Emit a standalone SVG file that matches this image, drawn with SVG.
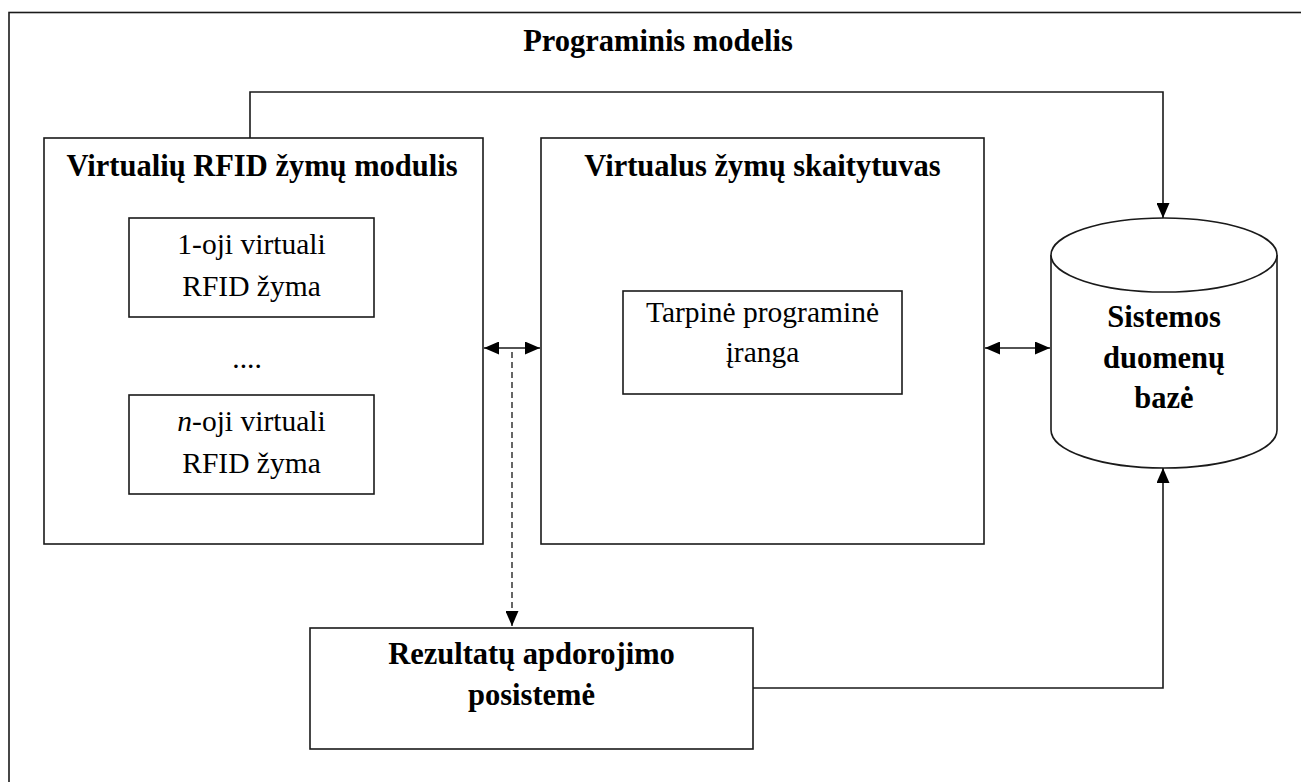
<svg xmlns="http://www.w3.org/2000/svg" width="1301" height="782" viewBox="0 0 1301 782">
<style>
.box{fill:#fff;stroke:#1a1a1a;stroke-width:1.6}
.ln{fill:none;stroke:#1a1a1a;stroke-width:1.6}
.dash{fill:none;stroke:#666;stroke-width:2;stroke-dasharray:6 4}
.t{font-family:"Liberation Serif","Times New Roman",serif;font-size:29.5px;fill:#000;text-anchor:middle}
.b{font-family:"Liberation Serif","Times New Roman",serif;font-size:30.5px;font-weight:bold;fill:#000;text-anchor:middle}
</style>
<defs>
<marker id="ah" viewBox="0 0 15 13" refX="15" refY="6.5" markerWidth="15" markerHeight="13" markerUnits="userSpaceOnUse" orient="auto-start-reverse">
<path d="M0,0 L15,6.5 L0,13 z" fill="#000"/>
</marker>
</defs>
<rect width="1301" height="782" fill="#fff"/>
<g id="frame">
<rect x="9" y="12.5" width="1400" height="900" fill="none" stroke="#1a1a1a" stroke-width="1.6"/>
<text class="b" x="658" y="51">Programinis modelis</text>
</g>
<g id="tag-module">
<rect class="box" x="44" y="138" width="439" height="406"/>
<text class="b" x="262" y="176">Virtualių RFID žymų modulis</text>
</g>
<g id="tag-1">
<rect class="box" x="129" y="218" width="245" height="99"/>
<text class="t" x="251.5" y="254">1-oji virtuali</text>
<text class="t" x="251.5" y="296">RFID žyma</text>
</g>
<g id="dots">
<text class="t" x="247" y="368">....</text>
</g>
<g id="tag-n">
<rect class="box" x="129" y="395" width="245" height="99"/>
<text class="t" x="251.5" y="431"><tspan font-style="italic">n</tspan>-oji virtuali</text>
<text class="t" x="251.5" y="473">RFID žyma</text>
</g>
<g id="reader">
<rect class="box" x="541" y="138" width="443" height="406"/>
<text class="b" x="762.5" y="176">Virtualus žymų skaitytuvas</text>
</g>
<g id="middleware">
<rect class="box" x="623" y="291" width="279" height="103"/>
<text class="t" x="762.5" y="322">Tarpinė programinė</text>
<text class="t" x="762.5" y="362">įranga</text>
</g>
<g id="database">
<path class="box" d="M1051,255 V430 A113,38 0 0 0 1277,430 V255"/>
<ellipse class="box" cx="1164" cy="255" rx="113" ry="37"/>
<text class="b" x="1164" y="327">Sistemos</text>
<text class="b" x="1164" y="368">duomenų</text>
<text class="b" x="1164" y="408">bazė</text>
</g>
<g id="results">
<rect class="box" x="310" y="628" width="443" height="121"/>
<text class="b" x="531.5" y="664">Rezultatų apdorojimo</text>
<text class="b" x="531.5" y="705">posistemė</text>
</g>
<g id="connectors">
<path class="ln" d="M250,138 V92 H1163 V218" marker-end="url(#ah)"/>
<path class="ln" d="M484,348 H540" marker-start="url(#ah)" marker-end="url(#ah)"/>
<path class="dash" d="M512,352 V626" marker-end="url(#ah)"/>
<path class="ln" d="M985,348 H1050" marker-start="url(#ah)" marker-end="url(#ah)"/>
<path class="ln" d="M753,688 H1163 V468" marker-end="url(#ah)"/>
</g>
</svg>
